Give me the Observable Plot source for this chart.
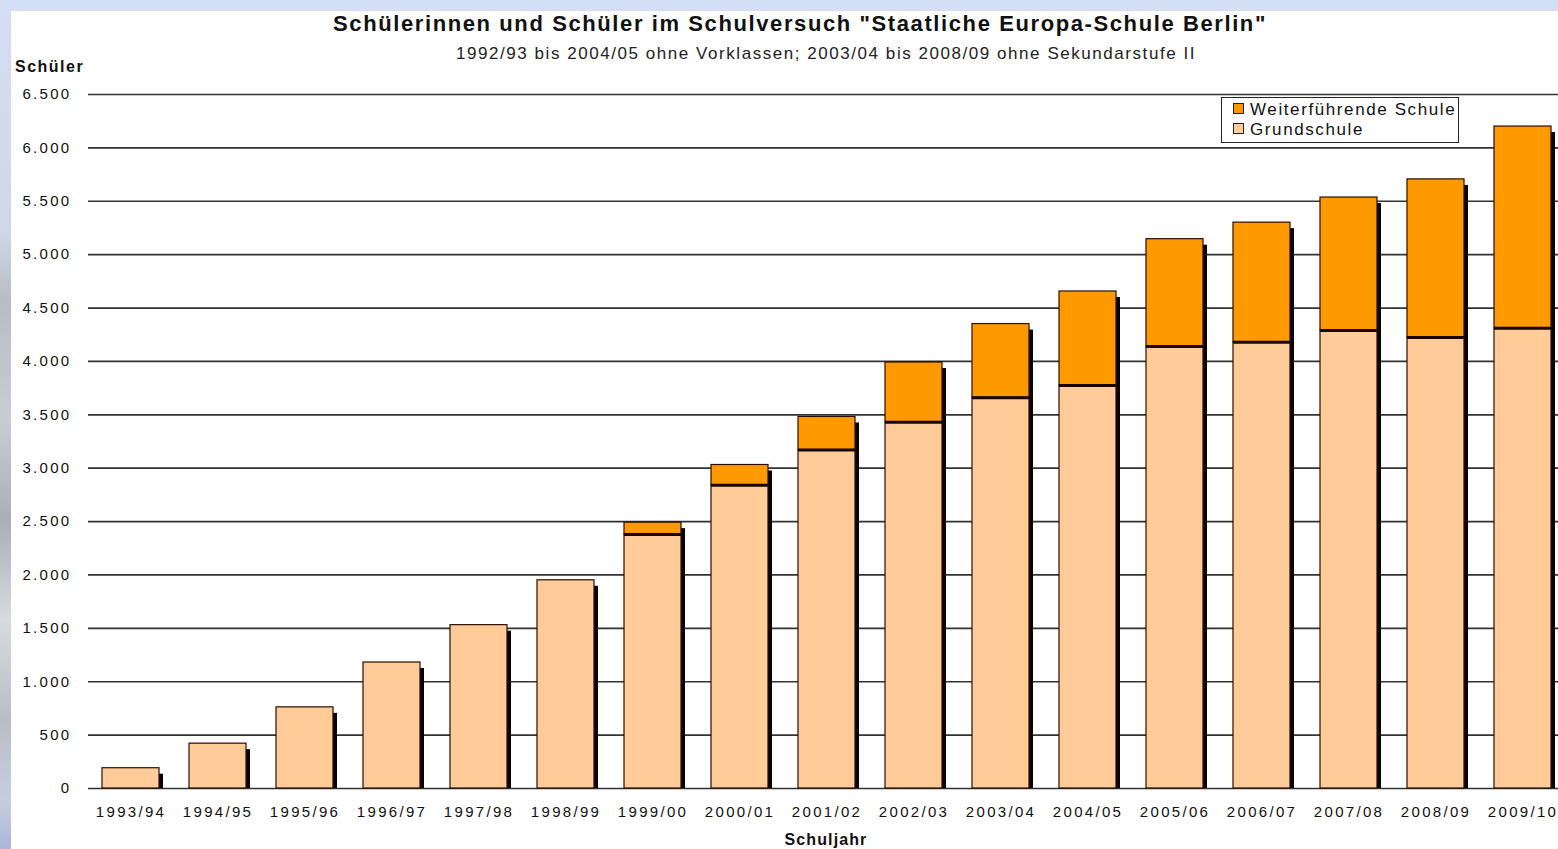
<!DOCTYPE html>
<html><head><meta charset="utf-8">
<script src="https://cdn.jsdelivr.net/npm/d3@7"></script>
<script src="https://cdn.jsdelivr.net/npm/@observablehq/plot@0.6"></script>
<style>
html,body{margin:0;padding:0;width:1558px;height:849px;overflow:hidden;background:#d4def4;font-family:"Liberation Sans",Arial,sans-serif;color:#111;}
#leftstrip{position:absolute;left:0;top:0;width:11px;height:849px;background:linear-gradient(to bottom,#d4def4 0px,#cfd8ea 230px,#b8bcc4 300px,#c9ccd2 420px,#a9aeb8 520px,#d8dadc 620px,#b9bdc6 720px,#c6cde0 800px,#a9b7dc 849px);}
#panel{position:absolute;left:11px;top:11px;width:1560px;height:838px;background:#fff;}
.txt{position:absolute;white-space:nowrap;}
#title{left:800px;top:13px;transform:translateX(-50%);font-weight:bold;font-size:22px;line-height:22px;letter-spacing:1.6px;}
#subtitle{left:826px;top:45px;transform:translateX(-50%);font-size:17px;line-height:18px;letter-spacing:1.55px;color:#222;}
#ylabel{left:15px;top:59px;font-weight:bold;font-size:16px;line-height:16px;letter-spacing:1.5px;}
#xlabel{left:826px;top:832px;transform:translateX(-50%);font-weight:bold;font-size:16px;line-height:16px;letter-spacing:1.1px;}
#chart{position:absolute;left:0;top:80px;width:1600px;height:760px;}
#chart svg{max-width:none !important;}
#legend{position:absolute;left:1221px;top:97px;width:236px;height:44px;border:1.5px solid #222;background:#fff;}
.li{position:absolute;left:11px;font-size:17px;line-height:18px;letter-spacing:1.6px;white-space:nowrap;}
.sw{display:inline-block;width:9px;height:9px;border:1px solid #222;margin-right:6px;vertical-align:1px;}
</style></head>
<body>
<div id="leftstrip"></div>
<div id="panel"></div>
<div id="chart"></div>
<div class="txt" id="title">Schülerinnen und Schüler im Schulversuch "Staatliche Europa-Schule Berlin"</div>
<div class="txt" id="subtitle">1992/93 bis 2004/05 ohne Vorklassen; 2003/04 bis 2008/09 ohne Sekundarstufe II</div>
<div class="txt" id="ylabel">Schüler</div>
<div class="txt" id="xlabel">Schuljahr</div>
<div id="legend"></div>
<script>
const years = ["1993/94","1994/95","1995/96","1996/97","1997/98","1998/99","1999/00","2000/01","2001/02","2002/03","2003/04","2004/05","2005/06","2006/07","2007/08","2008/09","2009/10"];
const grundschule = [190,420,760,1180,1530,1950,2380,2840,3170,3430,3660,3775,4140,4180,4290,4225,4310];
const weiterfuehrende = [0,0,0,0,0,0,110,190,310,560,690,880,1005,1120,1245,1480,1890];
const seriesNames = ["Grundschule","Weiterführende Schule"];
const seriesColors = ["#FFCC99","#FF9900"];
const legendOrder = ["Weiterführende Schule","Grundschule"];
const yTicks = [0,500,1000,1500,2000,2500,3000,3500,4000,4500,5000,5500,6000,6500];

const tidy = [];
years.forEach((y,i)=>{
  tidy.push({year:y, series:seriesNames[0], value:grundschule[i]});
  tidy.push({year:y, series:seriesNames[1], value:weiterfuehrende[i]});
});
const totals = years.map((y,i)=>({year:y, total:grundschule[i]+weiterfuehrende[i], grund:grundschule[i], weiter:weiterfuehrende[i]}));

const de = d3.formatLocale({decimal:",", thousands:".", grouping:[3], currency:["","€"]});
const fmt = de.format(",d");

const chart = Plot.plot({
  width:1570, height:750,
  marginLeft:88, marginRight:5, marginTop:14, marginBottom:42,
  style:{fontFamily:"'Liberation Sans', Arial, sans-serif", fontSize:"15px", letterSpacing:"2.3px", color:"#111", background:"transparent", overflow:"visible", maxWidth:"none"},
  x:{type:"band", domain:years, paddingInner:0.345, paddingOuter:0.15, label:null},
  y:{domain:[0,6500], label:null},
  color:{domain:seriesNames, range:seriesColors},
  marks:[
    Plot.ruleY(yTicks, {stroke:"#333", strokeWidth:1.7}),
    Plot.axisY({ticks:yTicks, tickSize:0, tickPadding:17, tickFormat:fmt, label:null}),
    Plot.axisX({tickSize:0, tickPadding:18, label:null}),
    Plot.barY(totals, {x:"year", y:"total", fill:"#0a0000", dx:4, dy:6, clip:true}),
    Plot.barY(tidy.filter(d=>d.value>0), {x:"year", y:"value", fill:"series", stroke:"#2a0d00", strokeWidth:1.2}),
    Plot.tickY(totals.filter(d=>d.weiter>0), {x:"year", y:"grund", stroke:"#1a0500", strokeWidth:3})
  ]
});
document.getElementById("chart").appendChild(chart);

const leg = document.getElementById("legend");
legendOrder.forEach((name,i)=>{
  const d = document.createElement("div");
  d.className="li";
  d.style.top = (3 + i*20) + "px";
  const sw = document.createElement("span");
  sw.className="sw";
  sw.style.background = seriesColors[seriesNames.indexOf(name)];
  d.appendChild(sw);
  d.appendChild(document.createTextNode(name));
  leg.appendChild(d);
});
</script>
</body></html>
